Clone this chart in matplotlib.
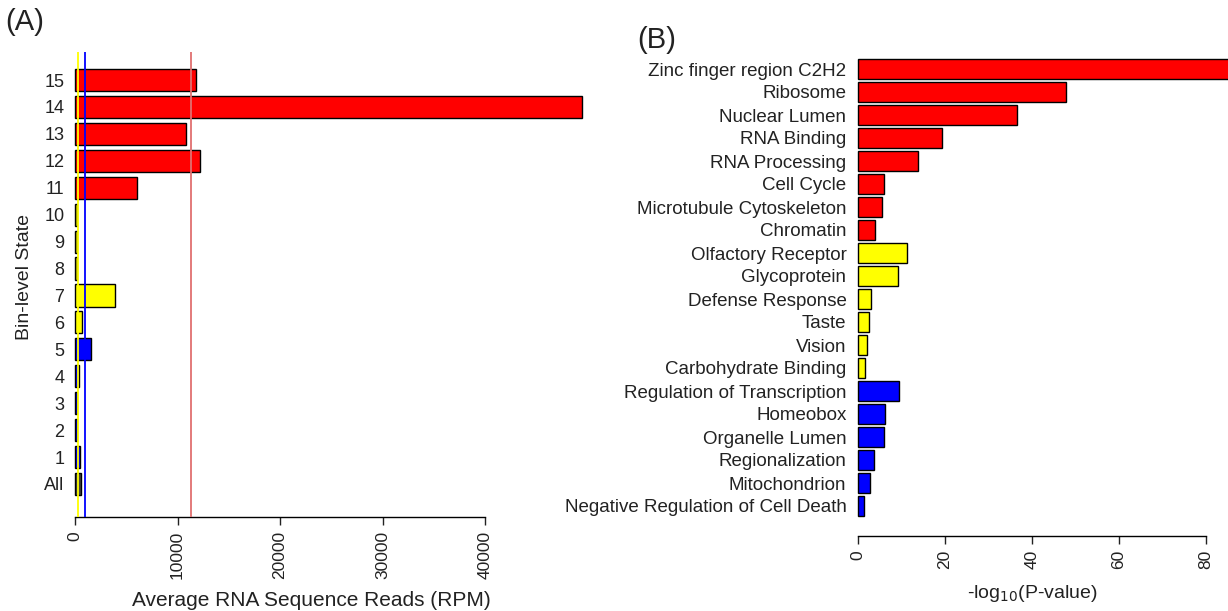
import matplotlib
matplotlib.use("Agg")
import matplotlib.pyplot as plt
import numpy as np

plt.rcParams["font.family"] = ["Liberation Sans", "DejaVu Sans"]

# panel A: bin-level states, bottom to top
states = ["All", "1", "2", "3", "4", "5", "6", "7", "8", "9", "10",
          "11", "12", "13", "14", "15"]
rpm = [600, 500, 200, 200, 400, 1550, 700, 3900, 200, 200, 200,
       6000, 12200, 10800, 49500, 11800]
state_colors = (["#404040"] + ["#0000FF"] * 5 + ["#FFFF00"] * 5 + ["#FF0000"] * 5)
ref_lines = [300, 1000, 11300]
ref_colors = ["#FFFF00", "#0000FF", "#E07070"]

# panel B: enriched terms, top to bottom
terms = ["Zinc finger region C2H2", "Ribosome", "Nuclear Lumen", "RNA Binding",
         "RNA Processing", "Cell Cycle", "Microtubule Cytoskeleton", "Chromatin",
         "Olfactory Receptor", "Glycoprotein", "Defense Response", "Taste",
         "Vision", "Carbohydrate Binding", "Regulation of Transcription",
         "Homeobox", "Organelle Lumen", "Regionalization", "Mitochondrion",
         "Negative Regulation of Cell Death"]
logp = [100, 47.8, 36.5, 19.3, 13.8, 6.0, 5.5, 3.9,
        11.3, 9.2, 3.0, 2.5, 2.1, 1.6,
        9.4, 6.2, 6.0, 3.7, 2.8, 1.4]
term_colors = ["#FF0000"] * 8 + ["#FFFF00"] * 6 + ["#0000FF"] * 6

W, H = 1228, 611
fig = plt.figure(figsize=(W / 100, H / 100), dpi=100)
TXT = "#222222"


def px_axes(left, right, top, bottom):
    return fig.add_axes([left / W, 1 - bottom / H, (right - left) / W, (bottom - top) / H])


def style_axis(ax, lo, hi, xfs, yfs, ypad):
    for s in ("left", "top", "right"):
        ax.spines[s].set_visible(False)
    ax.spines["bottom"].set_bounds(lo, hi)
    ax.spines["bottom"].set_linewidth(1.0)
    ax.tick_params(axis="x", length=6, width=1.0, labelsize=xfs, labelrotation=90,
                   pad=4, colors=TXT)
    ax.tick_params(axis="y", length=0, pad=ypad, labelsize=yfs, colors=TXT)


# ---------------------------------------------------------------- panel A
axA = px_axes(70, 600, 52, 517)
ya = np.arange(len(states))
axA.barh(ya, rpm, height=0.82, color=state_colors, edgecolor="black", linewidth=1.0)
for v, c in zip(ref_lines, ref_colors):
    axA.axvline(v, color=c, linewidth=1.3, zorder=3)
px_per = 10.25 / 1000
axA.set_xlim((70 - 75) / px_per, (600 - 75) / px_per)
axA.set_ylim(-33 / 26.93, 15 + 28 / 26.93)
axA.set_yticks(ya)
axA.set_yticklabels(states)
axA.set_xticks([0, 10000, 20000, 30000, 40000])
style_axis(axA, 0, 40000, 12.5, 13, 4)
fig.text(311 / W, 1 - 601 / H, "Average RNA Sequence Reads (RPM)", fontsize=15,
         ha="center", va="center", color=TXT)
fig.text(25 / W, 1 - 277 / H, "Bin-level State", rotation=90, fontsize=14,
         ha="center", va="center", color=TXT)
fig.text(5 / W, 1 - 22 / H, "(A)", fontsize=21, ha="left", va="center", color=TXT)

# ---------------------------------------------------------------- panel B
axB = px_axes(852, 1228, 50, 536)
yb = np.arange(len(terms))[::-1]
axB.barh(yb, logp, height=0.84, color=term_colors, edgecolor="black", linewidth=1.0)
axB.set_xlim(-6 / 4.35, 370 / 4.35)
axB.set_ylim(-30 / 23.0, 19 + 19 / 23.0)
axB.set_yticks(yb)
axB.set_yticklabels(terms)
axB.set_xticks([0, 20, 40, 60, 80])
style_axis(axB, 0, 80, 12.5, 13.5, 4)
fig.text(1032 / W, 1 - 594 / H, r"-log$_{10}$(P-value)", fontsize=14,
         ha="center", va="center", color=TXT)
fig.text(637 / W, 1 - 40 / H, "(B)", fontsize=21, ha="left", va="center", color=TXT)

fig.savefig("out.png", dpi=100)
